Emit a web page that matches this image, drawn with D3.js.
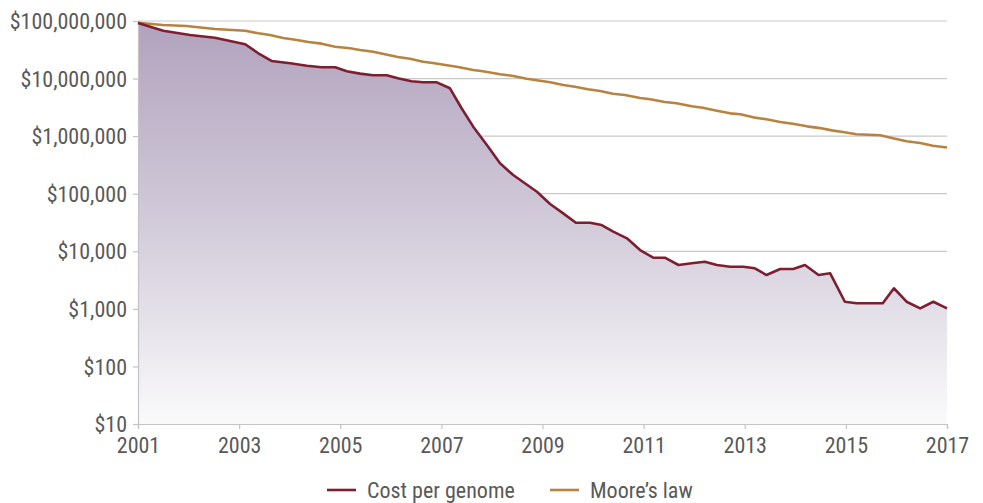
<!DOCTYPE html>
<html><head><meta charset="utf-8">
<script src="https://cdn.jsdelivr.net/npm/d3@7"></script>
<style>
html,body{margin:0;padding:0;background:#fff;}
svg{display:block;font-family:"Liberation Sans Narrow","Roboto Condensed","DejaVu Sans Condensed",sans-serif;}
</style></head><body>
<svg id="chart" width="983" height="503"></svg>
<script>
// ---- data ----
const costYears = [2001.0,2001.5,2002.03,2002.52,2002.82,2003.12,2003.38,2003.64,2004.01,2004.34,2004.63,2004.9,2005.13,2005.39,2005.65,2005.92,2006.14,2006.41,2006.64,2006.91,2007.17,2007.4,2007.63,2007.9,2008.16,2008.42,2008.89,2009.15,2009.41,2009.66,2009.94,2010.17,2010.4,2010.67,2010.93,2011.19,2011.42,2011.69,2011.95,2012.21,2012.45,2012.71,2012.97,2013.2,2013.43,2013.7,2013.96,2014.19,2014.46,2014.69,2014.98,2015.21,2015.47,2015.73,2015.95,2016.2,2016.47,2016.73,2017.0];
const costValues = [92000000,67800000,57100000,51300000,45000000,39400000,27500000,20200000,18400000,16700000,15700000,15700000,13400000,12200000,11400000,11400000,10100000,8970000,8610000,8610000,6780000,3050000,1460000,702000,337000,211000,108000,66200,45600,31300,31300,28600,21900,16800,10500,7730,7730,5780,6180,6590,5780,5390,5390,5060,3870,4920,4920,5780,3870,4140,1330,1250,1250,1250,2280,1330,1020,1330,1020];
const mooreYears = [2001.0,2001.49,2001.96,2002.52,2003.12,2003.38,2003.61,2003.87,2004.11,2004.37,2004.63,2004.9,2005.19,2005.39,2005.65,2006.14,2006.38,2006.64,2006.83,2007.11,2007.33,2007.63,2007.82,2008.16,2008.42,2008.69,2008.95,2009.15,2009.41,2009.64,2009.9,2010.14,2010.39,2010.63,2010.93,2011.13,2011.42,2011.65,2011.95,2012.17,2012.45,2012.71,2012.91,2013.17,2013.43,2013.7,2013.95,2014.23,2014.49,2014.72,2014.94,2015.21,2015.68,2015.93,2016.2,2016.47,2016.72,2017.0];
const mooreValues = [93400000,85200000,81900000,72600000,67800000,61100000,57100000,50700000,47300000,43200000,40400000,35800000,33600000,31300000,29300000,23700000,22100000,19600000,18600000,17000000,15900000,14100000,13400000,11900000,11100000,9950000,9190000,8610000,7730000,7220000,6510000,6080000,5460000,5190000,4600000,4370000,3920000,3720000,3300000,3120000,2770000,2490000,2400000,2120000,1960000,1760000,1640000,1480000,1380000,1260000,1180000,1080000,1035000,918000,813000,760000,683000,635000];
const xTickValues = [2001,2003,2005,2007,2009,2011,2013,2015,2017];
const yTickValues = [10,100,1000,10000,100000,1000000,10000000,100000000];
const seriesNames = ["Cost per genome","Moore\u2019s law"];
const seriesColors = ["#7d1f30","#b8833f"];

// ---- layout ----
const svg = d3.select("#chart");
const m = {left:138, right:36, top:21, bottom:79};
const W = 983, H = 503;
const x = d3.scaleLinear().domain([2001,2017]).range([m.left, W-m.right]);
const y = d3.scaleLog().domain([10,100000000]).range([H-m.bottom, m.top]);

const defs = svg.append("defs");
const grad = defs.append("linearGradient").attr("id","areaGrad")
  .attr("gradientUnits","userSpaceOnUse")
  .attr("x1",0).attr("y1",y(100000000)).attr("x2",0).attr("y2",y(10));
grad.append("stop").attr("offset","0%").attr("stop-color","#b1a2bd");
grad.append("stop").attr("offset","50%").attr("stop-color","#d2cbda");
grad.append("stop").attr("offset","100%").attr("stop-color","#fafafb");

// gridlines
svg.append("g").selectAll("line").data(yTickValues.slice(1)).join("line")
  .attr("x1",m.left).attr("x2",W-m.right)
  .attr("y1",d=>y(d)).attr("y2",d=>y(d))
  .attr("stroke","#c9c9c9").attr("stroke-width",1.2);

const costData = costYears.map((t,i)=>({t, v:costValues[i]}));
const mooreData = mooreYears.map((t,i)=>({t, v:mooreValues[i]}));

svg.append("path").datum(costData)
  .attr("d", d3.area().x(d=>x(d.t)).y0(y(10)).y1(d=>y(d.v)))
  .attr("fill","url(#areaGrad)");

// axes
const yAxis = svg.append("g").attr("transform",`translate(${m.left},0)`)
  .call(d3.axisLeft(y).tickValues(yTickValues).tickSize(5).tickPadding(6)
    .tickFormat(d=>"$"+d3.format(",")(d)));
const xAxis = svg.append("g").attr("transform",`translate(0,${y(10)})`)
  .call(d3.axisBottom(x).tickValues(xTickValues).tickSize(5).tickPadding(5)
    .tickFormat(d3.format("d")));
[yAxis,xAxis].forEach(a=>{
  a.selectAll(".domain").attr("stroke","#c4c4c4").attr("stroke-width",1.2);
  a.selectAll(".tick line").attr("stroke","#c4c4c4").attr("stroke-width",1.2);
  a.selectAll("text").attr("fill","#595959").attr("font-size",22)
    .attr("font-family","'Liberation Sans Narrow','Roboto Condensed',sans-serif");
});
yAxis.selectAll("text").attr("dy","0.35em");
xAxis.selectAll("text").attr("dy","0.85em");

const line = d3.line().x(d=>x(d.t)).y(d=>y(d.v));
svg.append("path").datum(mooreData).attr("d",line)
  .attr("fill","none").attr("stroke",seriesColors[1]).attr("stroke-width",2.6).attr("stroke-linejoin","round");
svg.append("path").datum(costData).attr("d",line)
  .attr("fill","none").attr("stroke",seriesColors[0]).attr("stroke-width",2.6).attr("stroke-linejoin","round");

// legend
const legX = [327, 550];
const leg = svg.append("g").selectAll("g").data(seriesNames).join("g")
  .attr("transform",(d,i)=>`translate(${legX[i]},490)`);
leg.append("line").attr("x1",0).attr("x2",29).attr("y1",0).attr("y2",0)
  .attr("stroke",(d,i)=>seriesColors[i]).attr("stroke-width",2.6);
leg.append("text").attr("x",40).attr("y",0).attr("dy","0.35em")
  .attr("font-size",22).attr("fill","#595959").text(d=>d);
</script>
</body></html>
